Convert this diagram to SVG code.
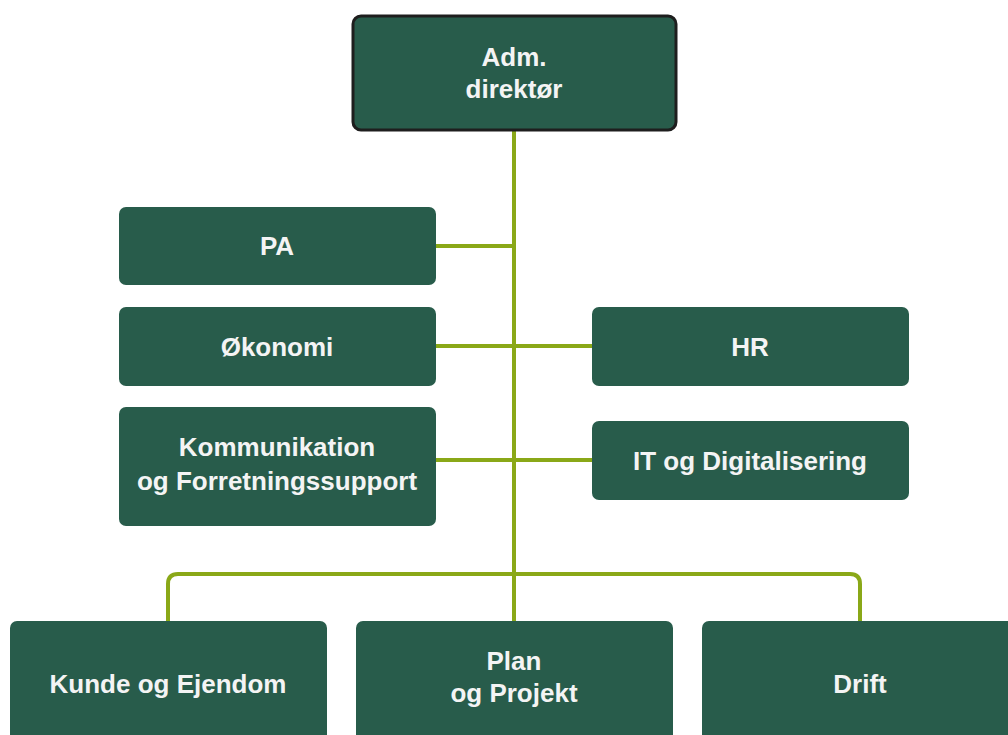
<svg xmlns="http://www.w3.org/2000/svg" width="1008" height="735" viewBox="0 0 1008 735">
<style>
.box{fill:#285c4b;}
.top{fill:#285c4b;stroke:#1e1e1e;stroke-width:3;}
.lbl{font-family:"Liberation Sans",Arial,sans-serif;font-weight:bold;font-size:26px;fill:#f4f4f4;text-anchor:middle;}
.con{fill:none;stroke:#8aa818;stroke-width:4;}
</style>
<rect width="1008" height="735" fill="#ffffff"/>
<g id="connectors">
<line class="con" x1="514" y1="131" x2="514" y2="622"/>
<line class="con" x1="436" y1="246" x2="514" y2="246"/>
<line class="con" x1="436" y1="346" x2="592" y2="346"/>
<line class="con" x1="436" y1="460" x2="592" y2="460"/>
<path class="con" d="M168 622 V584 Q168 574 178 574 H850 Q860 574 860 584 V622"/>
</g>
<g id="adm">
<rect class="top" x="353" y="16" width="323" height="114" rx="8"/>
<text class="lbl" x="514" y="66">Adm.</text>
<text class="lbl" x="514" y="98">direktør</text>
</g>
<g id="pa">
<rect class="box" x="119" y="207" width="317" height="78" rx="7"/>
<text class="lbl" x="277" y="255">PA</text>
</g>
<g id="okonomi">
<rect class="box" x="119" y="307" width="317" height="79" rx="7"/>
<text class="lbl" x="277" y="356">Økonomi</text>
</g>
<g id="hr">
<rect class="box" x="592" y="307" width="317" height="79" rx="7"/>
<text class="lbl" x="750" y="356">HR</text>
</g>
<g id="kommunikation">
<rect class="box" x="119" y="407" width="317" height="119" rx="7"/>
<text class="lbl" x="277" y="456">Kommunikation</text>
<text class="lbl" x="277" y="490">og Forretningssupport</text>
</g>
<g id="it">
<rect class="box" x="592" y="421" width="317" height="79" rx="7"/>
<text class="lbl" x="750" y="470">IT og Digitalisering</text>
</g>
<g id="kunde">
<rect class="box" x="10" y="621" width="317" height="130" rx="7"/>
<text class="lbl" x="168" y="693">Kunde og Ejendom</text>
</g>
<g id="plan">
<rect class="box" x="356" y="621" width="317" height="130" rx="7"/>
<text class="lbl" x="514" y="670">Plan</text>
<text class="lbl" x="514" y="702">og Projekt</text>
</g>
<g id="drift">
<rect class="box" x="702" y="621" width="317" height="130" rx="7"/>
<text class="lbl" x="860" y="693">Drift</text>
</g>
</svg>
